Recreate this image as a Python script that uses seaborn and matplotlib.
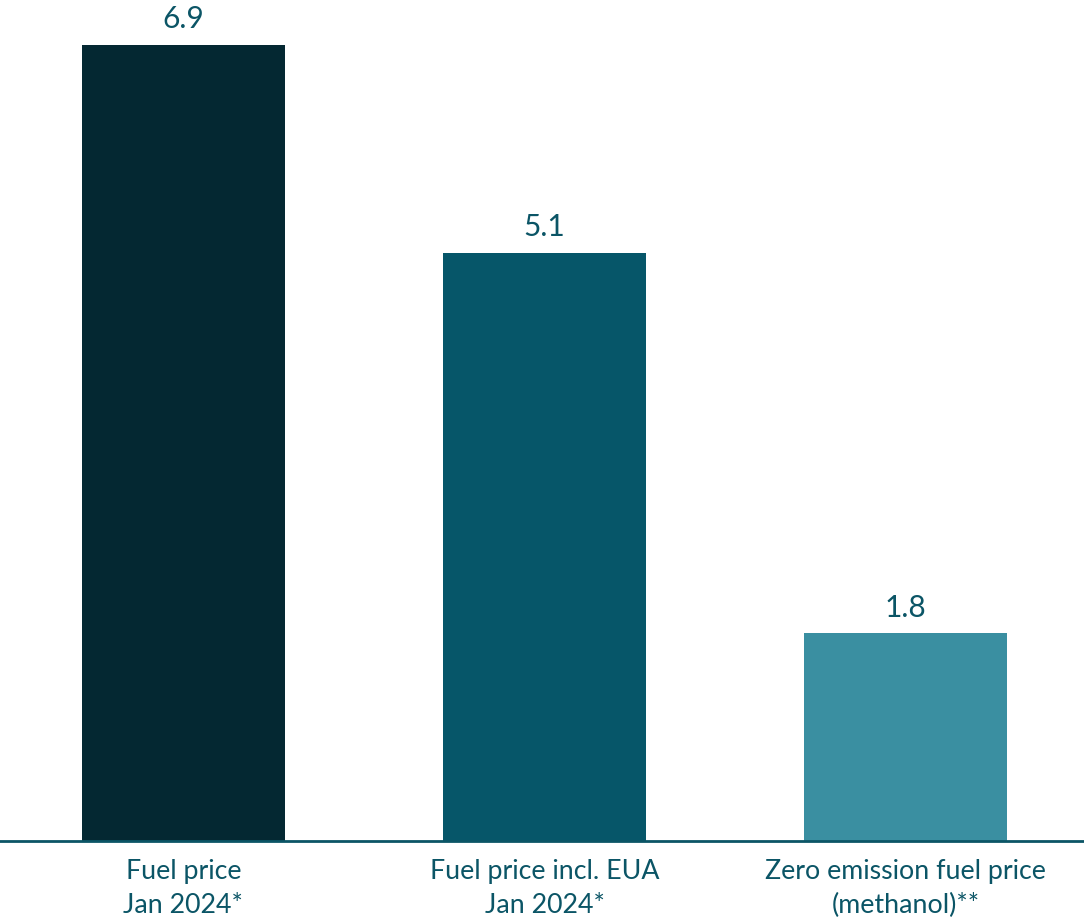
import matplotlib
matplotlib.use("Agg")
import matplotlib.pyplot as plt
import seaborn as sns
import pandas as pd

# %% data
categories = ["Fuel price\nJan 2024*", "Fuel price incl. EUA\nJan 2024*",
              "Zero emission fuel price\n(methanol)**"]
values = [6.9, 5.1, 1.8]
bar_colors = ["#042832", "#065669", "#3A8FA1"]
text_color = "#0B5566"

df = pd.DataFrame(dict(category=categories, value=values))

# %% plot
sns.set_style("white")
plt.rcParams["font.family"] = ["Lato", "DejaVu Sans"]

fig = plt.figure(figsize=(10.84, 9.21), dpi=100)
ax = fig.add_axes([0, 80 / 921, 1, 841 / 921])

sns.barplot(data=df, x="category", y="value", hue="category",
            palette=bar_colors, width=0.562, legend=False, ax=ax,
            saturation=1, linewidth=0)

for i, v in enumerate(values):
    ax.text(i, v + 0.1, f"{v:.1f}", ha="center", va="bottom",
            fontsize=21.5, color=text_color)

ax.set_xlim(-0.508, 2.494)
ax.set_ylim(0, 7.29)
ax.set_xlabel("")
ax.set_ylabel("")
ax.set_yticks([])
ax.tick_params(axis="x", length=0, pad=13, labelsize=19.3, labelcolor=text_color)
for lab in ax.get_xticklabels():
    lab.set_linespacing(1.45)
for s in ["top", "left", "right"]:
    ax.spines[s].set_visible(False)
ax.spines["bottom"].set_color(text_color)
ax.spines["bottom"].set_linewidth(2)

fig.savefig("out.png", dpi=100)
